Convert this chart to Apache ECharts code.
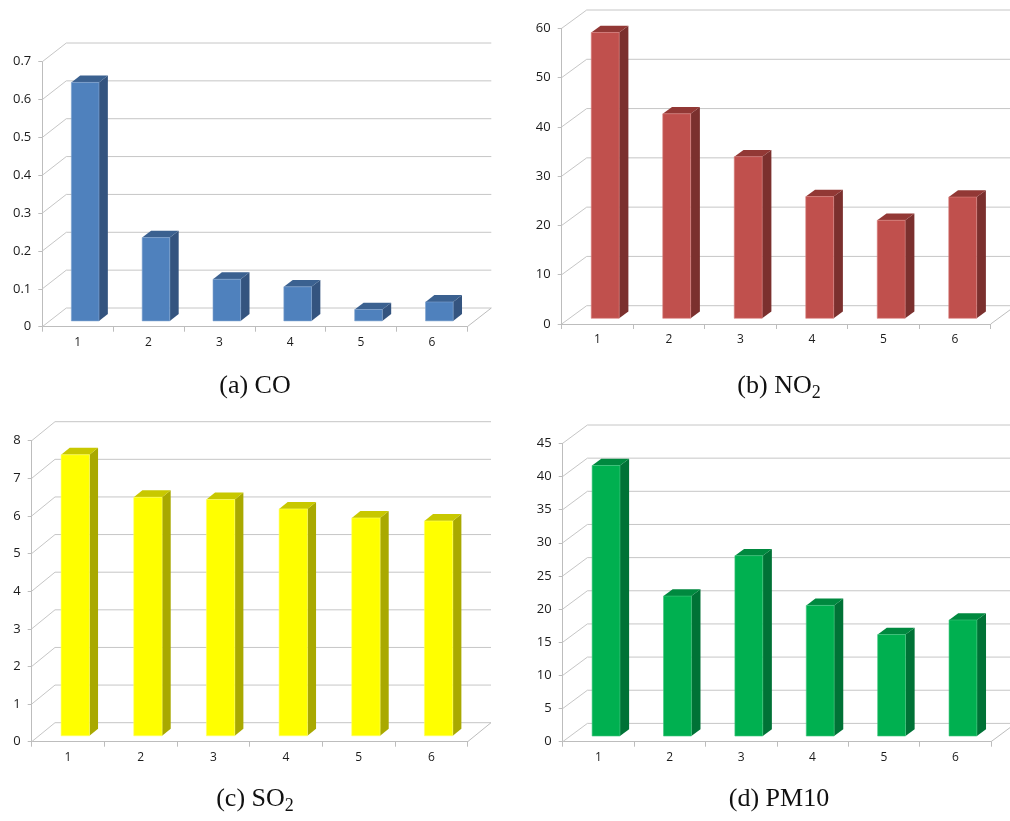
<!DOCTYPE html>
<html>
<head>
<meta charset="utf-8">
<script src="https://cdn.jsdelivr.net/npm/echarts@6/dist/echarts.min.js"></script>
<style>
  html, body { margin: 0; padding: 0; background: #ffffff; }
  #chart { width: 1010px; height: 821px; }
</style>
</head>
<body>
<div id="chart"></div>
<script>
// Site categories shared by all four pollutant panels
const categories = ['1', '2', '3', '4', '5', '6'];

// Mean concentrations per site
const coValues   = [0.63, 0.22, 0.11, 0.09, 0.03, 0.05];
const no2Values  = [58, 41.5, 32.8, 24.7, 19.9, 24.6];
const so2Values  = [7.47, 6.34, 6.28, 6.03, 5.79, 5.71];
const pm10Values = [40.8, 21.1, 27.2, 19.7, 15.3, 17.5];

// Value-axis ticks for each panel
const coTicks   = [0, 0.1, 0.2, 0.3, 0.4, 0.5, 0.6, 0.7];
const no2Ticks  = [0, 10, 20, 30, 40, 50, 60];
const so2Ticks  = [0, 1, 2, 3, 4, 5, 6, 7, 8];
const pm10Ticks = [0, 5, 10, 15, 20, 25, 30, 35, 40, 45];

// Panel captions (main text + optional subscript)
const captions = [
  ['(a) CO', ''],
  ['(b) NO', '2'],
  ['(c) SO', '2'],
  ['(d) PM10', '']
];

// ---- drawing setup ----
const GRID_COLOR = '#c6c6c6';
const AXIS_COLOR = '#bdbdbd';
const LABEL_COLOR = '#1c1c1c';
const FRONT_DEPTH = 0.31;   // where the bar front sits inside the floor depth
const BAR_DEPTH = 0.37;     // bar thickness as a share of the floor depth
const BAR_WIDTH = 0.39;     // bar width as a share of the category band

const panels = [
  { ticks: coTicks,   values: coValues,   max: 0.7, step: 0.1,
    box: { left: 42.3, top: 61.7, width: 425, height: 265 }, dx: 24, dy: 18.7,
    colors: { face: '#4f81bd', side: '#34547f', top: '#3b6190', edge: '#7fa2cf' },
    cap: { x: 255, y: 386 } },
  { ticks: no2Ticks,  values: no2Values,  max: 60, step: 10,
    box: { left: 561.7, top: 28.3, width: 429, height: 295.7 }, dx: 25, dy: 18.3,
    colors: { face: '#c0504d', side: '#7b302e', top: '#923835', edge: '#d9807d' },
    cap: { x: 779, y: 386 } },
  { ticks: so2Ticks,  values: so2Values,  max: 8, step: 1,
    box: { left: 31.7, top: 440.7, width: 436, height: 301 }, dx: 23.3, dy: 19,
    colors: { face: '#ffff00', side: '#a9a900', top: '#c8c800', edge: '#ffff66' },
    cap: { x: 255, y: 799 } },
  { ticks: pm10Ticks, values: pm10Values, max: 45, step: 5,
    box: { left: 562.7, top: 443.3, width: 428.3, height: 298.4 }, dx: 24.7, dy: 18.3,
    colors: { face: '#00b050', side: '#007236', top: '#00893f', edge: '#40c67d' },
    cap: { x: 779, y: 799 } }
];

const grids = [], xAxes = [], yAxes = [], series = [], graphics = [];

panels.forEach(function (p, i) {
  grids.push({ left: p.box.left, top: p.box.top, width: p.box.width, height: p.box.height, containLabel: false });

  xAxes.push({
    type: 'category', gridIndex: i, data: categories, boundaryGap: true,
    axisLine: { show: true, lineStyle: { color: AXIS_COLOR, width: 1 } },
    axisTick: { show: true, interval: 0, length: 5, lineStyle: { color: AXIS_COLOR } },
    axisLabel: { color: LABEL_COLOR, fontFamily: 'Open Sans', fontSize: 12, margin: 10 },
    splitLine: { show: false }
  });

  yAxes.push({
    type: 'value', gridIndex: i, min: 0, max: p.max, interval: p.step,
    axisLine: { show: true, lineStyle: { color: AXIS_COLOR, width: 1 } },
    axisTick: { show: true, length: 4, lineStyle: { color: AXIS_COLOR } },
    axisLabel: { color: LABEL_COLOR, fontFamily: 'Open Sans', fontSize: 13, margin: 11 },
    splitLine: { show: false }
  });

  // walls: side-wall diagonals and back-wall gridlines for every tick, plus the floor's right edge
  series.push({
    type: 'custom', xAxisIndex: i, yAxisIndex: i, silent: true, z: 1,
    data: p.ticks.map(function (t) { return [0, t]; }),
    renderItem: function (params, api) {
      const cs = params.coordSys;
      const y = api.coord([0, api.value(1)])[1];
      const xL = cs.x, xR = cs.x + cs.width;
      const children = [{
        type: 'polyline',
        shape: { points: [[xL, y], [xL + p.dx, y - p.dy], [xR + p.dx, y - p.dy]] },
        style: { stroke: GRID_COLOR, lineWidth: 1, fill: null }
      }];
      if (api.value(1) === 0) {
        children.push({
          type: 'line',
          shape: { x1: xR, y1: y, x2: xR + p.dx, y2: y - p.dy },
          style: { stroke: AXIS_COLOR, lineWidth: 1 }
        });
      }
      return { type: 'group', children: children };
    }
  });

  // 3-D style columns: front face, right side and top
  series.push({
    type: 'custom', xAxisIndex: i, yAxisIndex: i, z: 3,
    data: p.values.map(function (v, k) { return [k, v]; }),
    renderItem: function (params, api) {
      const cat = api.value(0), val = api.value(1);
      const top = api.coord([cat, val]);
      const base = api.coord([cat, 0]);
      const bw = api.size([1, 0])[0] * BAR_WIDTH;
      const ox = p.dx * FRONT_DEPTH, oy = p.dy * FRONT_DEPTH;
      const sx = p.dx * BAR_DEPTH, sy = p.dy * BAR_DEPTH;
      const x0 = top[0] - bw / 2 + ox, x1 = x0 + bw;
      const yt = top[1] - oy, yb = base[1] - oy;
      return {
        type: 'group',
        children: [
          { type: 'polygon',
            shape: { points: [[x1, yt], [x1 + sx, yt - sy], [x1 + sx, yb - sy], [x1, yb]] },
            style: { fill: p.colors.side } },
          { type: 'polygon',
            shape: { points: [[x0, yt], [x0 + sx, yt - sy], [x1 + sx, yt - sy], [x1, yt]] },
            style: { fill: p.colors.top } },
          { type: 'rect',
            shape: { x: x0, y: yt, width: bw, height: yb - yt },
            style: { fill: p.colors.face, stroke: p.colors.edge, lineWidth: 0.6 } }
        ]
      };
    }
  });

  const c = captions[i];
  const text = c[1] ? '{m|' + c[0] + '}{s|' + c[1] + '}' : '{m|' + c[0] + '}';
  graphics.push({
    type: 'text', x: p.cap.x, y: p.cap.y, silent: true,
    style: {
      text: text, align: 'center', verticalAlign: 'middle',
      rich: {
        m: { fontFamily: 'Liberation Serif', fontSize: 26, lineHeight: 32, verticalAlign: 'middle', fill: '#111' },
        s: { fontFamily: 'Liberation Serif', fontSize: 18, lineHeight: 20, verticalAlign: 'bottom', fill: '#111' }
      }
    }
  });
});

const chart = echarts.init(document.getElementById('chart'), null, { renderer: 'canvas' });
chart.setOption({
  animation: false,
  backgroundColor: '#ffffff',
  grid: grids,
  xAxis: xAxes,
  yAxis: yAxes,
  series: series,
  graphic: graphics
});
</script>
</body>
</html>
